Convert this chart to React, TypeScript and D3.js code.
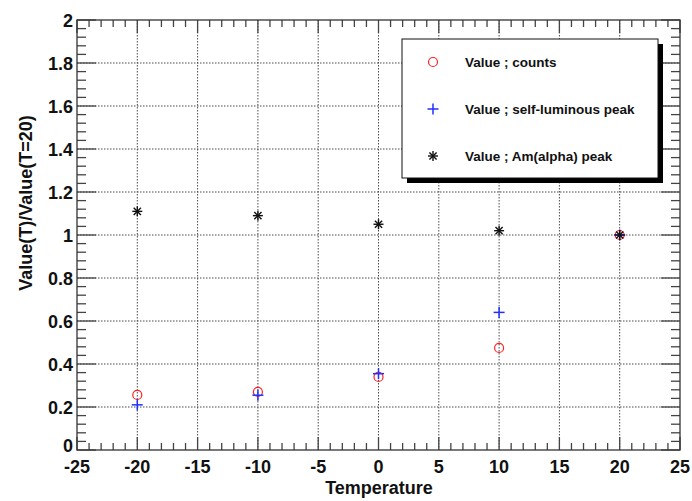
import React from 'react'
import * as d3 from 'd3'

const temperatures = [-20, -10, 0, 10, 20]
const counts = [0.256, 0.27, 0.34, 0.475, 1.0]
const selfLuminous = [0.21, 0.255, 0.355, 0.64, 1.0]
const amAlpha = [1.11, 1.09, 1.05, 1.02, 1.0]

const xTicks = [-25, -20, -15, -10, -5, 0, 5, 10, 15, 20, 25]
const yTicks = [0, 0.2, 0.4, 0.6, 0.8, 1, 1.2, 1.4, 1.6, 1.8, 2]
const legendLabels = ['Value ; counts', 'Value ; self-luminous peak', 'Value ; Am(alpha) peak']

const W = 692
const H = 501
const frame = { left: 77, right: 680, top: 20, bottom: 450 }
const font = '"Liberation Sans", Arial, Helvetica, sans-serif'

const Circle = ({ x, y }: { x: number; y: number }) => (
  <circle cx={x} cy={y} r={4.5} fill="none" stroke="#ff2020" strokeWidth={1.2} />
)
const Plus = ({ x, y }: { x: number; y: number }) => (
  <g stroke="#2030ff" strokeWidth={1.5}>
    <line x1={x - 5.5} x2={x + 5.5} y1={y} y2={y} />
    <line x1={x} x2={x} y1={y - 5.5} y2={y + 5.5} />
  </g>
)
const Star = ({ x, y }: { x: number; y: number }) => {
  const s = 5
  const d = 3.6
  return (
    <g stroke="#111" strokeWidth={1.4}>
      <line x1={x - s} x2={x + s} y1={y} y2={y} />
      <line x1={x} x2={x} y1={y - s} y2={y + s} />
      <line x1={x - d} x2={x + d} y1={y - d} y2={y + d} />
      <line x1={x - d} x2={x + d} y1={y + d} y2={y - d} />
    </g>
  )
}

export default function App() {
  const x = d3.scaleLinear().domain([-25, 25]).range([frame.left, frame.right])
  const y = d3.scaleLinear().domain([0, 2]).range([frame.bottom, frame.top])

  const xMinor = d3.range(-25, 25.01, 1)
  const yMinor = d3.range(0, 2.001, 0.04)
  const isMajorX = (v: number) => Math.abs(v % 5) < 1e-6
  const isMajorY = (v: number) => Math.abs(Math.round(v / 0.2) * 0.2 - v) < 1e-6

  const tickColor = '#444'

  return (
    <svg width={W} height={H} style={{ position: 'absolute', left: 0, top: 0, background: '#fff' }}>
      <rect x={0} y={0} width={W} height={H} fill="#fff" />

      {/* grid */}
      <g stroke="#4a4a4a" strokeWidth={1} strokeDasharray="1.5,1.5">
        {xTicks.slice(1, -1).map(t => (
          <line key={'gx' + t} x1={x(t)} x2={x(t)} y1={frame.top} y2={frame.bottom} />
        ))}
        {yTicks.slice(1, -1).map(t => (
          <line key={'gy' + t} x1={frame.left} x2={frame.right} y1={y(t)} y2={y(t)} />
        ))}
      </g>

      {/* ticks on all four sides */}
      <g stroke={tickColor} strokeWidth={1.3}>
        {xMinor.map(t => {
          const len = isMajorX(t) ? 13 : 7
          return (
            <g key={'tx' + t}>
              <line x1={x(t)} x2={x(t)} y1={frame.bottom} y2={frame.bottom - len} />
              <line x1={x(t)} x2={x(t)} y1={frame.top} y2={frame.top + len} />
            </g>
          )
        })}
        {yMinor.map(t => {
          const len = isMajorY(t) ? 19 : 9
          return (
            <g key={'ty' + t.toFixed(2)}>
              <line x1={frame.left} x2={frame.left + len} y1={y(t)} y2={y(t)} />
              <line x1={frame.right} x2={frame.right - len} y1={y(t)} y2={y(t)} />
            </g>
          )
        })}
      </g>

      {/* frame */}
      <rect x={frame.left} y={frame.top} width={frame.right - frame.left} height={frame.bottom - frame.top}
        fill="none" stroke="#333" strokeWidth={1.3} />

      {/* tick labels */}
      <g fontFamily={font} fontWeight="bold" fontSize={18} fill="#111">
        {xTicks.map(t => (
          <text key={'lx' + t} x={x(t)} y={473} textAnchor="middle">{t}</text>
        ))}
        {yTicks.map(t => (
          <text key={'ly' + t} x={frame.left - 4} y={y(t) + (t === 0 ? 2 : 6.5)} textAnchor="end">{t}</text>
        ))}
      </g>

      {/* axis titles */}
      <text x={379} y={494} textAnchor="middle" fontFamily={font} fontWeight="bold" fontSize={18} fill="#111">
        Temperature
      </text>
      <text transform="translate(32,203) rotate(-90)" textAnchor="middle" fontFamily={font} fontWeight="bold"
        fontSize={18} fill="#111">
        Value(T)/Value(T=20)
      </text>

      {/* data */}
      {temperatures.map((t, i) => <Circle key={'c' + t} x={x(t)} y={y(counts[i])} />)}
      {temperatures.map((t, i) => <Plus key={'p' + t} x={x(t)} y={y(selfLuminous[i])} />)}
      {temperatures.map((t, i) => <Star key={'s' + t} x={x(t)} y={y(amAlpha[i])} />)}

      {/* legend */}
      <rect x={407} y={44} width={256} height={139} fill="#000" />
      <rect x={402} y={39} width={256} height={139} fill="#fff" stroke="#111" strokeWidth={1} />
      {legendLabels.map((lab, i) => {
        const ly = 62 + i * 47
        return (
          <g key={lab}>
            {i === 0 && <Circle x={433} y={ly} />}
            {i === 1 && <Plus x={433} y={ly} />}
            {i === 2 && <Star x={433} y={ly} />}
            <text x={465} y={ly + 5} fontFamily={font} fontWeight="bold" fontSize={13.5} fill="#111">{lab}</text>
          </g>
        )
      })}
    </svg>
  )
}
